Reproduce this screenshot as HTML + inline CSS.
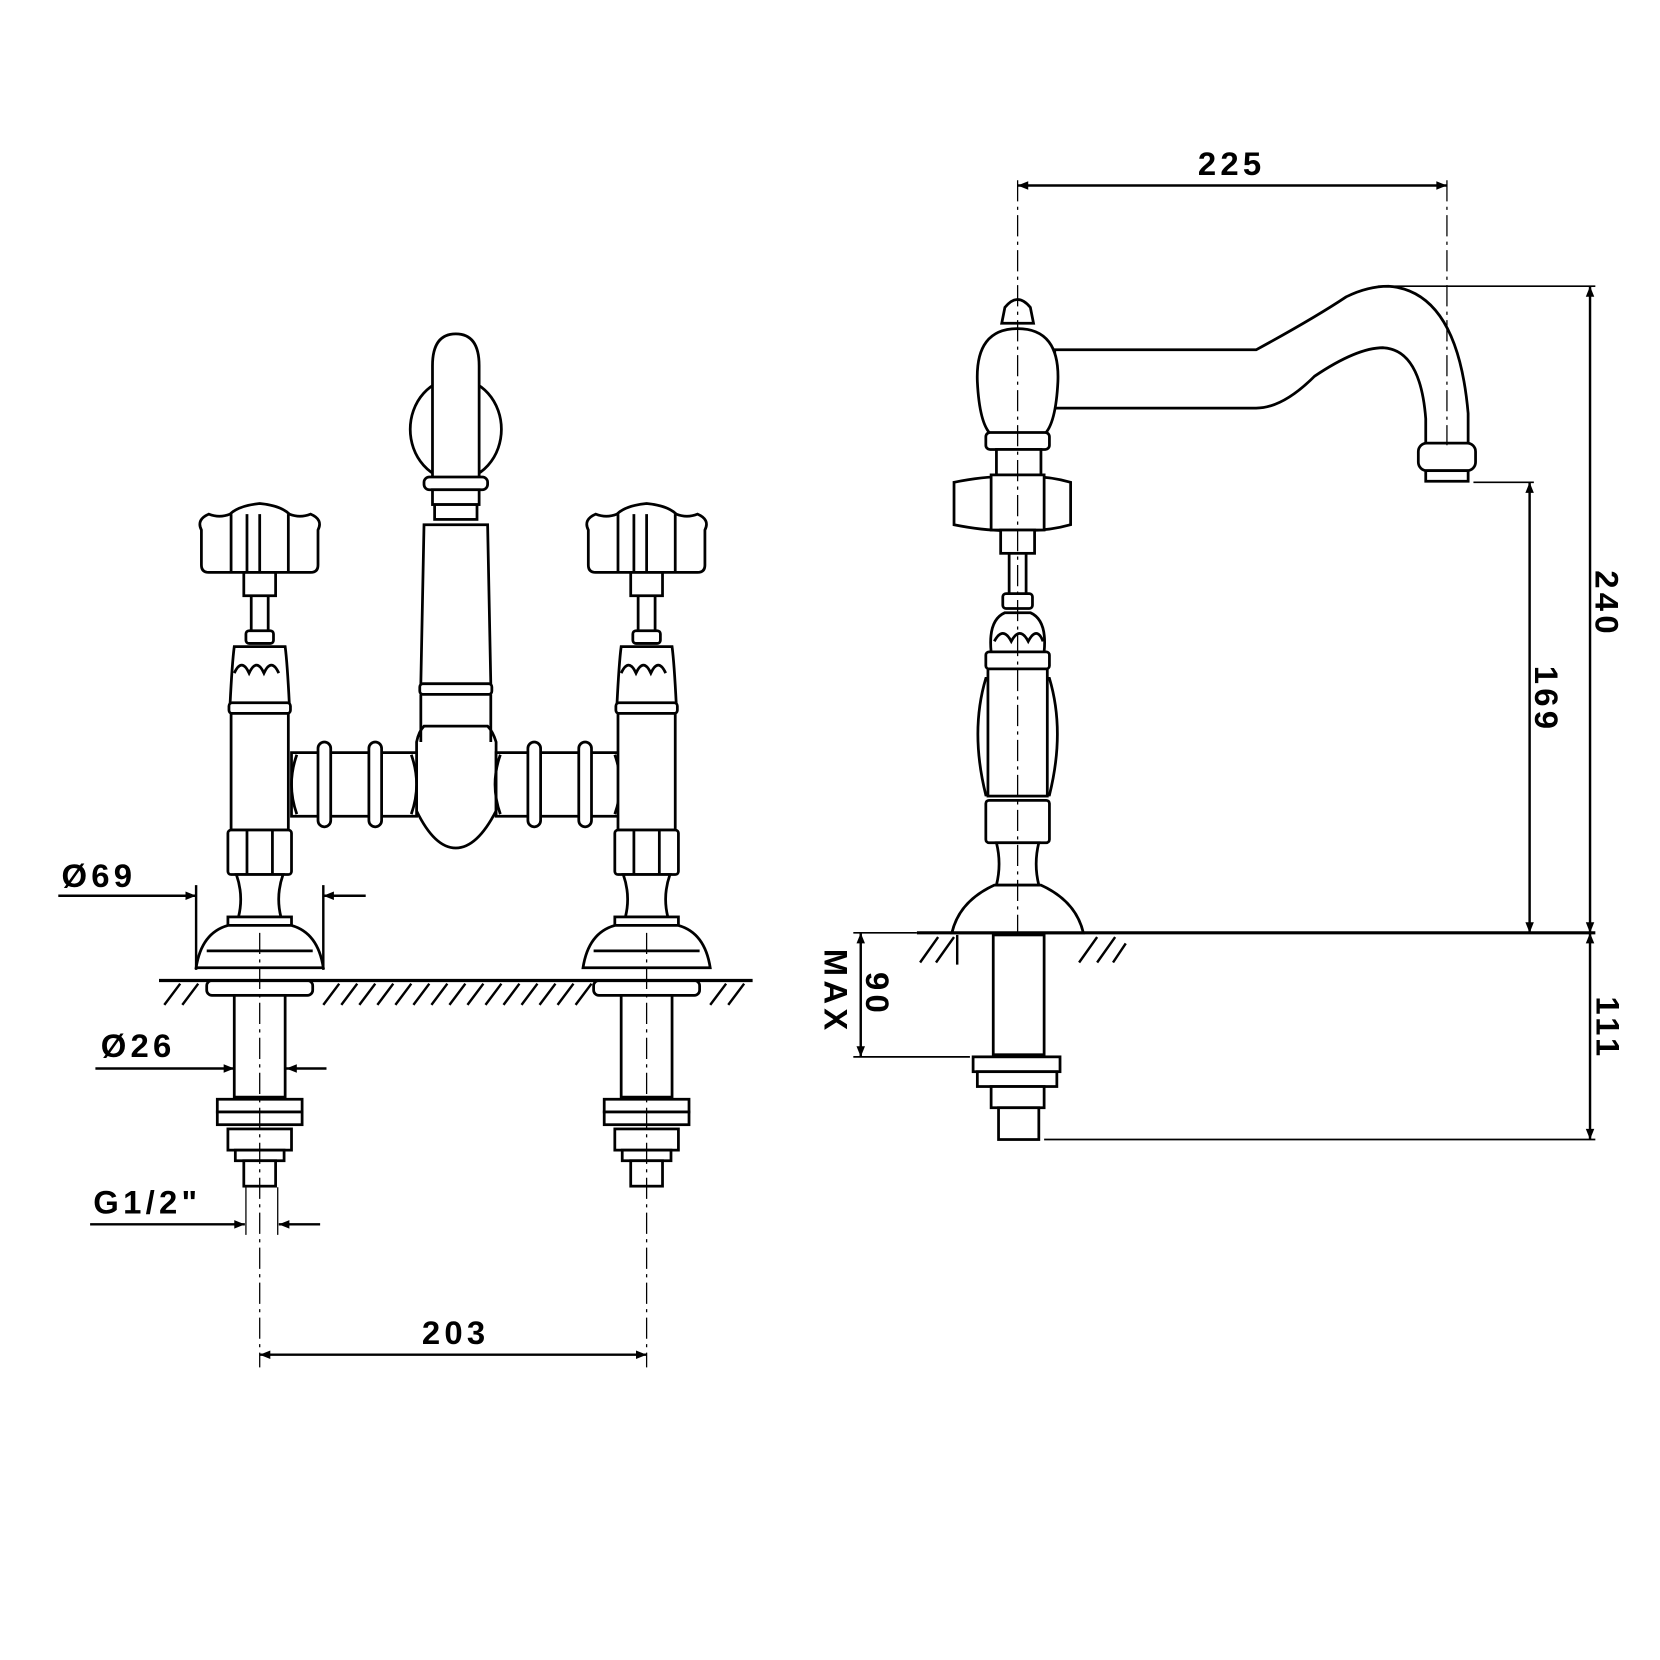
<!DOCTYPE html>
<html><head><meta charset="utf-8"><style>
html,body{margin:0;padding:0;background:#fff}
svg{display:block}
text{font-family:"Liberation Sans",sans-serif;font-weight:bold;font-size:31px;fill:#000;letter-spacing:4px}
</style></head><body>
<svg width="1660" height="1660" viewBox="0 0 1566 1566" xmlns="http://www.w3.org/2000/svg">
<defs>
<marker id="ar" viewBox="0 0 10 10" refX="10" refY="5" markerWidth="18" markerHeight="10" markerUnits="userSpaceOnUse" orient="auto-start-reverse"><path d="M0,1 L10,5 L0,9 z" fill="#000"/></marker>
<g id="tap" fill="#fff" stroke="#000" stroke-width="2.6">
  <path d="M-55,-425 Q-60,-435 -48,-440 Q-38,-436 -28,-440 Q-20,-448 0,-450 Q20,-448 28,-440 Q38,-436 48,-440 Q60,-435 55,-425 L55,-392 Q55,-385 48,-385 L-48,-385 Q-55,-385 -55,-392 Z"/>
  <path d="M-27,-440 L-27,-385 M-12,-440 L-12,-385 M0,-440 L0,-385 M27,-440 L27,-385" fill="none"/>
  <rect x="-15" y="-385" width="30" height="22"/>
  <path d="M-8,-363 L-8,-330 M8,-363 L8,-330" fill="none"/>
  <rect x="-13" y="-330" width="26" height="12" rx="3"/>
  <path d="M-24,-315 Q-26,-300 -28,-260 L28,-260 Q26,-300 24,-315 Z"/>
  <path d="M-24,-290 Q-17,-305 -10,-290 Q-3,-305 4,-290 Q11,-305 18,-290" fill="none"/>
  <rect x="-29" y="-262" width="58" height="10" rx="3"/>
  <rect x="-27" y="-252" width="54" height="110"/>
  <rect x="-30" y="-142" width="60" height="42" rx="3"/>
  <path d="M-12,-142 L-12,-100 M12,-142 L12,-100" fill="none"/>
  <path d="M-22,-100 Q-15,-80 -20,-60 L20,-60 Q15,-80 22,-100 Z"/>
  <rect x="-30" y="-60" width="60" height="8"/>
  <path d="M-30,-52 Q-55,-45 -60,-12 L60,-12 Q55,-45 30,-52 Z"/>
  <path d="M-50,-28 L50,-28" fill="none"/>
  <rect x="-50" y="0" width="100" height="14" rx="5"/>
  <rect x="-24" y="14" width="48" height="96"/>
  <rect x="-40" y="112" width="80" height="12"/>
  <rect x="-40" y="124" width="80" height="12"/>
  <rect x="-30" y="140" width="60" height="20"/>
  <rect x="-23" y="160" width="46" height="10"/>
  <rect x="-15" y="170" width="30" height="24"/>
</g>
</defs>
<g fill="none" stroke="#000" stroke-width="2.3">
<g fill="#fff" stroke="#000" stroke-width="2.6">
<path d="M393,700 Q395,690 400,685 L460,685 Q465,690 468,700 L468,765 Q450,800 430,800 Q410,800 393,765 Z"/>
<path d="M275,710 L393,710 L393,770 L275,770 Z"/>
<path d="M468,710 L585,710 L585,770 L468,770 Z"/>
<path d="M280,712 Q270,740 280,768 M388,712 Q398,740 388,768 M472,712 Q462,740 472,768 M580,712 Q590,740 580,768" fill="none"/>
<rect x="300" y="700" width="12" height="80" rx="6"/>
<rect x="348" y="700" width="12" height="80" rx="6"/>
<rect x="498" y="700" width="12" height="80" rx="6"/>
<rect x="546" y="700" width="12" height="80" rx="6"/>
<path d="M400,495 L397,645 L463,645 L460,495 Z"/>
<rect x="396" y="645" width="68" height="10" rx="3"/>
<path d="M397,655 L397,700 M463,655 L463,700" fill="none"/>
<ellipse cx="430" cy="405" rx="43" ry="48"/>
<path d="M408,455 L408,345 Q408,315 430,315 Q452,315 452,345 L452,455 Z"/>
<rect x="400" y="450" width="60" height="12" rx="5"/>
<rect x="408" y="462" width="44" height="14"/>
<rect x="410" y="476" width="40" height="14"/>
</g>
<use href="#tap" x="245" y="925"/>
<use href="#tap" x="610" y="925"/>
<path d="M150,925 L710,925" stroke-width="3"/>
<path d="M155,948 L170,928 M172,948 L187,928 M305,948 L320,928 M322,948 L337,928 M339,948 L354,928 M356,948 L371,928 M373,948 L388,928 M390,948 L405,928 M407,948 L422,928 M424,948 L439,928 M441,948 L456,928 M458,948 L473,928 M475,948 L490,928 M492,948 L507,928 M509,948 L524,928 M526,948 L541,928 M543,948 L558,928 M670,948 L685,928 M687,948 L702,928"/>
<path d="M245,880 L245,1290 M610,880 L610,1290" stroke-width="1.2" stroke-dasharray="20,5,3,5"/>
<path d="M185,835 L185,915 M305,835 L305,915"/>
<path d="M55,845 L185,845" marker-end="url(#ar)"/>
<path d="M345,845 L305,845" marker-end="url(#ar)"/>
<path d="M90,1008 L221,1008" marker-end="url(#ar)"/>
<path d="M308,1008 L270,1008" marker-end="url(#ar)"/>
<path d="M232,1120 L232,1165 M262,1120 L262,1165" stroke-width="1.2"/>
<path d="M85,1155 L231,1155" marker-end="url(#ar)"/>
<path d="M302,1155 L263,1155" marker-end="url(#ar)"/>
<path d="M245,1278 L610,1278" marker-start="url(#ar)" marker-end="url(#ar)"/>

<g fill="#fff" stroke="#000" stroke-width="2.6">
<path d="M995,330 L1185,330 Q1240,300 1270,280 Q1290,270 1310,270 Q1375,275 1385,390 L1385,420 L1345,420 L1345,395 Q1340,330 1305,328 Q1280,328 1240,355 Q1210,385 1185,385 L995,385 Z"/>
<rect x="1338" y="418" width="54" height="26" rx="8"/>
<rect x="1345" y="444" width="40" height="10"/>
<path d="M945,305 L948,290 Q960,275 972,290 L975,305 Z"/>
<path d="M960,310 Q1000,310 998,360 Q996,400 985,410 L935,410 Q924,400 922,360 Q920,310 960,310 Z"/>
<rect x="930" y="408" width="60" height="16" rx="4"/>
<rect x="940" y="424" width="42" height="24"/>
<path d="M900,455 Q935,448 960,450 Q985,448 1010,455 L1010,495 Q985,502 960,500 Q935,502 900,495 Z"/>
<rect x="935" y="448" width="50" height="52"/>
<rect x="944" y="500" width="32" height="22"/>
<path d="M952,522 L952,560 M968,522 L968,560"/>
<rect x="946" y="560" width="28" height="14" rx="3"/>
<path d="M935,615 Q932,585 948,578 L972,578 Q988,585 985,615 Z"/>
<path d="M938,605 Q946,590 954,605 Q962,590 970,605 Q978,590 984,605" fill="none"/>
<rect x="930" y="615" width="60" height="16" rx="3"/>
<path d="M930,640 Q915,690 930,750 L990,750 Q1005,690 990,640 Z"/>
<rect x="932" y="631" width="56" height="120"/>
<rect x="930" y="755" width="60" height="40" rx="3"/>
<path d="M940,795 Q945,815 940,835 L980,835 Q975,815 980,795 Z"/>
<path d="M938,835 Q905,850 898,880 L1022,880 Q1015,850 982,835 Z"/>
<rect x="937" y="882" width="48" height="113"/>
<rect x="918" y="997" width="82" height="14"/>
<rect x="922" y="1011" width="75" height="14"/>
<rect x="935" y="1025" width="50" height="20"/>
<rect x="942" y="1045" width="38" height="30"/>
</g>
<path d="M960,170 L960,880" stroke-width="1.2" stroke-dasharray="20,5,3,5"/>
<path d="M1365,170 L1365,420" stroke-width="1.2" stroke-dasharray="20,5,3,5"/>
<path d="M865,880 L1505,880" stroke-width="3"/>
<path d="M868,908 L885,884 M883,908 L900,884 M1018,908 L1035,884 M1035,908 L1052,884 M1050,908 L1062,890"/>
<path d="M903,882 L903,910"/>
<path d="M960,175 L1365,175" marker-start="url(#ar)" marker-end="url(#ar)"/>
<path d="M1300,270 L1505,270" stroke-width="1.6"/>
<path d="M1500,270 L1500,880" marker-start="url(#ar)" marker-end="url(#ar)"/>
<path d="M1390,455 L1447,455" stroke-width="1.6"/>
<path d="M1443,455 L1443,880" marker-start="url(#ar)" marker-end="url(#ar)"/>
<path d="M1500,880 L1500,1075" marker-start="url(#ar)" marker-end="url(#ar)"/>
<path d="M985,1075 L1505,1075" stroke-width="1.6"/>
<path d="M805,880 L865,880 M805,997 L915,997" stroke-width="1.6"/>
<path d="M812,880 L812,997" marker-start="url(#ar)" marker-end="url(#ar)"/>
</g>
<text x="58" y="837">Ø69</text>
<text x="95" y="997">Ø26</text>
<text x="88" y="1145">G1/2"</text>
<text x="398" y="1268">203</text>
<text x="1130" y="165">225</text>
<text transform="translate(1505,538) rotate(90)">240</text>
<text transform="translate(1448,628) rotate(90)">169</text>
<text transform="translate(1506,940) rotate(90)">111</text>
<text transform="translate(817,917) rotate(90)">90</text>
<text transform="translate(778,895) rotate(90)">MAX</text>
</svg>
</body></html>
